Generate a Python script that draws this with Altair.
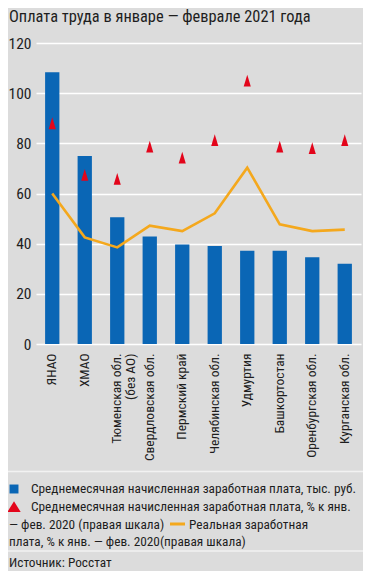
import altair as alt
import pandas as pd

# ---- data ----
regions = ["ЯНАО", "ХМАО", "Тюменская обл.\n(без АО)", "Свердловская обл.", "Пермский край",
           "Челябинская обл.", "Удмуртия", "Башкортостан", "Оренбургская обл.", "Курганская обл."]
wage = [108.3, 75.0, 50.5, 42.9, 39.7, 39.1, 37.2, 37.2, 34.6, 32.0]
nominal_pct = [88.0, 67.4, 65.8, 78.7, 74.3, 81.3, 105.0, 78.7, 78.1, 81.3]
real_pct = [60.0, 42.5, 38.5, 47.2, 45.0, 52.1, 70.3, 47.7, 45.0, 45.6]
y_ticks = [0, 20, 40, 60, 80, 100, 120]

title_text = "Оплата труда в январе — феврале 2021 года"
legend_1 = "Среднемесячная начисленная заработная плата, тыс. руб."
legend_2a = "Среднемесячная начисленная заработная плата, % к янв."
legend_2b = "— фев. 2020 (правая шкала)"
legend_3a = "Реальная заработная"
legend_3b = "плата, % к янв. — фев. 2020(правая шкала)"
source_text = "Источник: Росстат"

df = pd.DataFrame({"region": regions, "wage": wage, "nominal": nominal_pct, "real": real_pct})

FONT = "Liberation Sans Narrow, Roboto Condensed, DejaVu Sans Condensed, Arial Narrow, sans-serif"
BLUE = "#0a66b5"
RED = "#e3051b"
ORANGE = "#f4a81d"
TEXT = "#1e1e1e"
W, H = 325, 301
LFS = 13.3

x_enc = alt.X("region:N", sort=regions, title=None,
              scale=alt.Scale(paddingInner=0.56, paddingOuter=0.28),
              axis=alt.Axis(labelAngle=270, labelFont=FONT, labelFontSize=13.5, labelColor=TEXT,
                            labelPadding=9, ticks=False, domain=False, grid=False,
                            labelExpr="split(datum.value, '\\n')", labelLineHeight=14,
                            labelLimit=200))
y_scale = alt.Scale(domain=[0, 120], nice=False)
y_axis = alt.Axis(values=y_ticks, title=None, labelFont=FONT, labelFontSize=15.5, labelColor=TEXT,
                  ticks=False, domain=False, grid=True, gridColor="#ffffff", gridWidth=1.6,
                  labelPadding=5)

base = alt.Chart(df)
bars = base.mark_bar(color=BLUE).encode(
    x=x_enc, y=alt.Y("wage:Q", scale=y_scale, axis=y_axis))
line = base.mark_line(color=ORANGE, strokeWidth=2.6).encode(
    x=alt.X("region:N", sort=regions), y=alt.Y("real:Q", scale=y_scale))
tri_path = "M0,-1L0.6,1L-0.6,1Z"
tris = base.mark_point(shape=tri_path, filled=True, color=RED, opacity=1, size=140).encode(
    x=alt.X("region:N", sort=regions), y=alt.Y("nominal:Q", scale=y_scale))


def txt(x, y, s, size=LFS):
    return alt.Chart(df.head(1)).mark_text(align="left", baseline="middle", font=FONT,
                                           fontSize=size, color=TEXT).encode(
        x=alt.value(x), y=alt.value(y), text=alt.value(s))


def hrule(y):
    return alt.Chart(df.head(1)).mark_rule(color="#f2f2f2", strokeWidth=1.5).encode(
        x=alt.value(-28), x2=alt.value(W + 2), y=alt.value(y))


title = txt(-27, -26, title_text, 16.4)
sep1 = hrule(428.5)
sep2 = hrule(508)
sq = alt.Chart(df.head(1)).mark_point(shape="square", filled=True, color=BLUE, opacity=1, size=80).encode(
    x=alt.value(-22), y=alt.value(446))
tr = alt.Chart(df.head(1)).mark_point(shape="M0,-1L1,0.6L-1,0.6Z", filled=True, color=RED, opacity=1, size=180).encode(
    x=alt.value(-22), y=alt.value(465))
l1 = txt(-5, 446, legend_1)
l2 = txt(-5, 464, legend_2a)
l3 = txt(-27, 482, legend_2b)
orange_mark = alt.Chart(df.head(1)).mark_rule(color=ORANGE, strokeWidth=3).encode(
    x=alt.value(134), x2=alt.value(149), y=alt.value(481))
l3b = txt(153, 482, legend_3a)
l4 = txt(-27, 499, legend_3b)
src = txt(-27, 520, source_text)

chart = alt.layer(bars, line, tris, title, sep1, sep2, sq, tr, l1, l2, l3, orange_mark, l3b, l4, src).properties(
    width=W, height=H,
    autosize=alt.AutoSizeParams(type="none"),
    padding={"left": 28, "top": 35, "right": 2, "bottom": 227},
    background="#dcdcdc",
).configure_view(stroke=None)

chart.save("out.html", embed_options={"renderer": "svg", "actions": False})
